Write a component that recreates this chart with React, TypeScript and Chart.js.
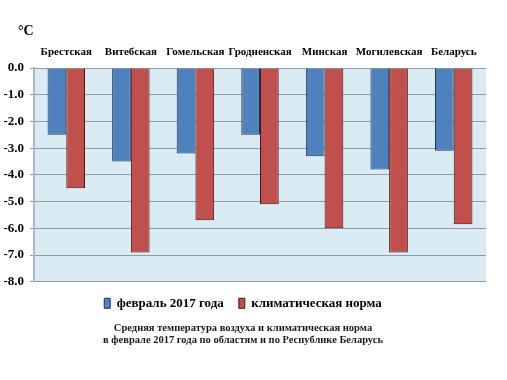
import { useEffect, useRef } from "react";
import { Chart, registerables } from "chart.js";

Chart.register(...registerables);

const categories = ["Брестская", "Витебская", "Гомельская", "Гродненская", "Минская", "Могилевская", "Беларусь"];
const feb2017 = [-2.5, -3.5, -3.2, -2.5, -3.3, -3.8, -3.1];
const climateNorm = [-4.5, -6.9, -5.7, -5.1, -6.0, -6.9, -5.85];
const seriesNames = ["февраль 2017 года", "климатическая норма"];
const titleLines = [
  "Средняя температура воздуха и климатическая норма",
  "в феврале 2017 года по областям и по Республике Беларусь",
];
const unitLabel = "°C";
const yMin = -8;
const yMax = 0;
const yStep = 1;

const SERIF = '"Liberation Serif", "Times New Roman", serif';

export default function App() {
  const ref = useRef<HTMLCanvasElement | null>(null);

  useEffect(() => {
    if (!ref.current) return;
    const bgPlugin = {
      id: "plotBg",
      beforeDraw(chart: any) {
        const { ctx, chartArea } = chart;
        ctx.save();
        ctx.fillStyle = "#DBEBF4";
        ctx.fillRect(chartArea.left, chartArea.top, chartArea.right - chartArea.left, chartArea.bottom - chartArea.top);
        ctx.restore();
      },
      afterDraw(chart: any) {
        const { ctx, chartArea } = chart;
        ctx.save();
        ctx.fillStyle = "#000";
        ctx.font = `bold 14px ${SERIF}`;
        ctx.textBaseline = "middle";
        ctx.textAlign = "left";
        ctx.fillText(unitLabel, chartArea.left - 16, chartArea.top - 37);
        ctx.restore();
      },
    };

    const chart = new Chart(ref.current, {
      type: "bar",
      data: {
        labels: categories,
        datasets: [
          {
            label: seriesNames[0],
            data: feb2017,
            backgroundColor: "#4F81BD",
            borderColor: "#1F3556",
            borderWidth: 1,
            borderSkipped: "start",
          },
          {
            label: seriesNames[1],
            data: climateNorm,
            backgroundColor: "#C0504D",
            borderColor: "#4A1210",
            borderWidth: 1,
            borderSkipped: "start",
          },
        ],
      },
      options: {
        responsive: false,
        animation: false,
        layout: { padding: { top: 0, left: 0, right: 21, bottom: 33 } },
        datasets: { bar: { categoryPercentage: 0.58, barPercentage: 1.0 } },
        scales: {
          x: {
            position: "top",
            grid: { display: false, drawTicks: false },
            border: { display: false },
            ticks: {
              color: "#000",
              font: { family: SERIF, size: 11, weight: "bold" },
              padding: 9,
              maxRotation: 0,
              autoSkip: false,
            },
            afterFit(scale: any) {
              scale.height = 68;
            },
          },
          y: {
            min: yMin,
            max: yMax,
            grid: { color: "#8E9CA5", lineWidth: 1, tickLength: 4 },
            border: { display: true, color: "#A8BAC6", width: 2 },
            ticks: {
              stepSize: yStep,
              color: "#000",
              font: { family: SERIF, size: 13, weight: "bold" },
              padding: 6,
              callback: (v: any) => Number(v).toFixed(1),
            },
            afterFit(scale: any) {
              scale.width = 34;
            },
          },
        },
        plugins: {
          legend: {
            position: "bottom",
            labels: {
              color: "#000",
              font: { family: SERIF, size: 13, weight: "bold" },
              boxWidth: 6,
              boxHeight: 10,
              padding: 15,
            },
          },
          title: {
            display: true,
            position: "bottom",
            text: titleLines,
            color: "#1a1a1a",
            font: { family: SERIF, size: 10.5, weight: "bold" },
            padding: { top: 2, bottom: 0 },
          },
          tooltip: { enabled: false },
        },
      },
      plugins: [bgPlugin],
    });
    return () => chart.destroy();
  }, []);

  return (
    <div style={{ position: "absolute", left: 0, top: 0, width: 507, height: 380, background: "#fff" }}>
      <canvas ref={ref} width={507} height={380} style={{ display: "block" }} />
    </div>
  );
}
